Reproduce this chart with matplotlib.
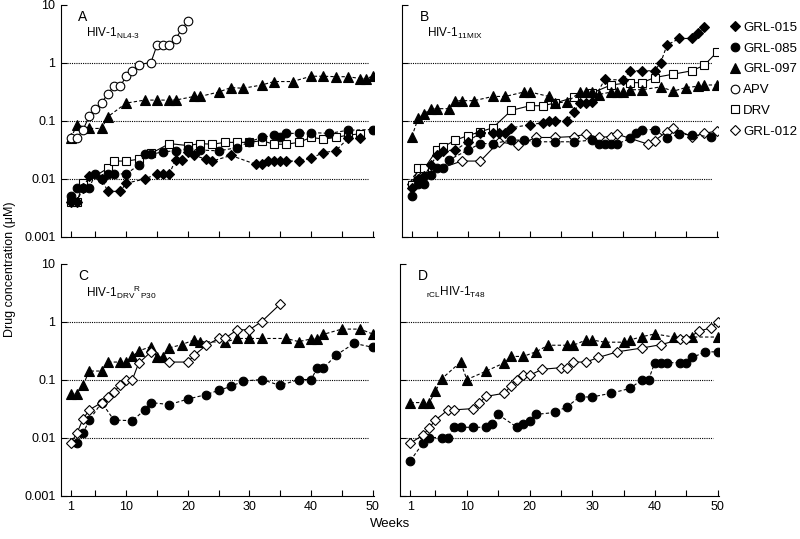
import matplotlib
matplotlib.use('Agg')
import matplotlib.pyplot as plt
from matplotlib.lines import Line2D

plt.rcParams['font.family'] = 'Liberation Sans'
plt.rcParams['mathtext.fontset'] = 'custom'
plt.rcParams['mathtext.rm'] = 'Liberation Sans'
plt.rcParams['mathtext.it'] = 'Liberation Sans'

# ---- panel A : HIV-1 NL4-3 ----
a_015_wk = [1, 2, 3, 4, 6, 7, 9, 10, 13, 15, 16, 17, 18, 19, 20, 21, 23, 24, 27, 31, 32, 33, 34, 35, 36, 38, 40, 42, 44, 46, 48]
a_015 = [0.004, 0.004, 0.007, 0.011, 0.0098, 0.006, 0.006, 0.0083, 0.0098, 0.012, 0.012, 0.012, 0.021, 0.021, 0.029, 0.025,
         0.0215, 0.02, 0.025, 0.0176, 0.0176, 0.02, 0.02, 0.02, 0.02, 0.02, 0.0224, 0.028, 0.03, 0.049, 0.049]
a_085_wk = [1, 2, 3, 4, 5, 6, 7, 8, 10, 12, 13, 14, 16, 18, 20, 22, 25, 28, 30, 32, 34, 35, 36, 38, 40, 43, 46, 50]
a_085 = [0.005, 0.007, 0.007, 0.007, 0.012, 0.0098, 0.012, 0.012, 0.012, 0.017, 0.026, 0.026, 0.029, 0.03, 0.032, 0.031,
         0.03, 0.034, 0.043, 0.051, 0.056, 0.051, 0.06, 0.06, 0.062, 0.06, 0.068, 0.07]
a_097_wk = [1, 2, 4, 6, 7, 10, 13, 15, 17, 18, 21, 22, 25, 27, 29, 32, 34, 37, 40, 42, 44, 46, 48, 49, 50]
a_097 = [0.05, 0.084, 0.073, 0.073, 0.116, 0.2, 0.225, 0.225, 0.225, 0.225, 0.26, 0.26, 0.31, 0.37, 0.36, 0.41, 0.47,
         0.47, 0.58, 0.58, 0.57, 0.57, 0.53, 0.53, 0.58]
a_apv_wk = [1, 2, 3, 4, 5, 6, 7, 8, 9, 10, 11, 12, 14, 15, 16, 17, 18, 19, 20]
a_apv = [0.05, 0.05, 0.07, 0.12, 0.16, 0.2, 0.29, 0.39, 0.39, 0.58, 0.71, 0.92, 1, 2, 2, 2, 2.5, 3.8, 5.1]
a_drv_wk = [1, 2, 3, 7, 8, 10, 12, 14, 17, 20, 22, 24, 26, 28, 30, 32, 34, 36, 38, 40, 42, 44, 46, 48]
a_drv = [0.004, 0.004, 0.0083, 0.015, 0.02, 0.02, 0.0215, 0.027, 0.04, 0.037, 0.04, 0.039, 0.042, 0.042, 0.042, 0.045,
         0.039, 0.039, 0.042, 0.051, 0.048, 0.051, 0.056, 0.059]

# ---- panel B : HIV-1 11MIX ----
b_015_wk = [1, 2, 3, 4, 5, 6, 8, 10, 12, 14, 15, 16, 17, 20, 22, 23, 24, 26, 27, 28, 29, 30, 32, 35, 36, 38, 40, 41, 42, 44, 46, 47, 48]
b_015 = [0.007, 0.01, 0.011, 0.017, 0.025, 0.03, 0.031, 0.043, 0.062, 0.062, 0.062, 0.062, 0.075, 0.085, 0.091, 0.1, 0.1,
         0.1, 0.14, 0.2, 0.2, 0.21, 0.51, 0.5, 0.72, 0.72, 0.72, 1.0, 2.0, 2.6, 2.6, 3.2, 4.1]
b_085_wk = [1, 2, 3, 4, 5, 6, 7, 10, 12, 14, 17, 19, 21, 24, 27, 30, 31, 32, 33, 34, 36, 37, 38, 40, 42, 44, 46, 49]
b_085 = [0.005, 0.008, 0.008, 0.0115, 0.015, 0.015, 0.021, 0.031, 0.04, 0.04, 0.046, 0.046, 0.043, 0.043, 0.043, 0.046,
         0.039, 0.039, 0.039, 0.039, 0.049, 0.06, 0.069, 0.07, 0.049, 0.059, 0.056, 0.053]
b_097_wk = [1, 2, 3, 4, 5, 7, 8, 9, 11, 14, 16, 19, 20, 23, 24, 26, 28, 29, 30, 31, 33, 34, 35, 36, 38, 41, 43, 45, 47, 48, 50]
b_097 = [0.053, 0.11, 0.13, 0.16, 0.16, 0.16, 0.22, 0.22, 0.22, 0.26, 0.26, 0.31, 0.31, 0.26, 0.2, 0.21, 0.31, 0.31,
         0.31, 0.28, 0.31, 0.31, 0.31, 0.34, 0.34, 0.38, 0.32, 0.37, 0.39, 0.41, 0.41]
b_drv_wk = [1, 2, 3, 5, 6, 8, 10, 12, 14, 17, 20, 22, 24, 27, 30, 33, 36, 38, 40, 43, 46, 48, 50]
b_drv = [0.0078, 0.015, 0.015, 0.031, 0.035, 0.046, 0.055, 0.064, 0.075, 0.15, 0.18, 0.18, 0.2, 0.25, 0.3, 0.41, 0.45,
         0.45, 0.55, 0.63, 0.72, 0.9, 1.5]
b_012_wk = [1, 2, 3, 9, 12, 15, 18, 21, 24, 27, 29, 31, 33, 34, 39, 40, 42, 43, 46, 48, 50]
b_012 = [0.008, 0.011, 0.012, 0.02, 0.02, 0.043, 0.038, 0.051, 0.051, 0.053, 0.058, 0.051, 0.053, 0.058, 0.039, 0.045,
         0.064, 0.073, 0.053, 0.06, 0.066]

# ---- panel C : HIV-1 DRVR P30 ----
c_085_wk = [2, 3, 4, 6, 8, 11, 13, 14, 17, 20, 23, 25, 27, 29, 32, 35, 38, 40, 41, 42, 44, 47, 50]
c_085 = [0.008, 0.012, 0.02, 0.04, 0.02, 0.0195, 0.03, 0.04, 0.037, 0.046, 0.055, 0.065, 0.076, 0.094, 0.1, 0.079,
         0.1, 0.1, 0.155, 0.155, 0.26, 0.42, 0.36]
c_097_wk = [1, 2, 3, 4, 6, 7, 9, 10, 11, 12, 14, 15, 16, 17, 19, 21, 22, 26, 28, 30, 32, 36, 38, 40, 41, 42, 45, 48, 50]
c_097 = [0.057, 0.057, 0.081, 0.14, 0.14, 0.2, 0.2, 0.2, 0.25, 0.31, 0.37, 0.24, 0.24, 0.35, 0.4, 0.48, 0.45, 0.44,
         0.51, 0.51, 0.51, 0.51, 0.45, 0.5, 0.5, 0.6, 0.74, 0.74, 0.61]
c_012_wk = [1, 2, 3, 4, 6, 7, 8, 9, 10, 11, 12, 14, 17, 20, 21, 23, 25, 26, 28, 30, 32, 35]
c_012 = [0.008, 0.012, 0.021, 0.03, 0.04, 0.05, 0.06, 0.081, 0.1, 0.1, 0.19, 0.3, 0.2, 0.2, 0.26, 0.39, 0.51, 0.51,
         0.72, 0.72, 1.0, 2.0]

# ---- panel D : rCL HIV-1 T48 ----
d_085_wk = [1, 3, 4, 6, 7, 8, 9, 11, 13, 14, 15, 18, 19, 20, 21, 24, 26, 28, 30, 33, 36, 38, 39, 40, 41, 42, 44, 45, 46, 48, 50]
d_085 = [0.004, 0.008, 0.01, 0.01, 0.01, 0.015, 0.015, 0.015, 0.015, 0.017, 0.025, 0.015, 0.017, 0.019, 0.025, 0.027,
         0.034, 0.05, 0.05, 0.058, 0.07, 0.1, 0.1, 0.195, 0.195, 0.195, 0.195, 0.195, 0.24, 0.3, 0.3]
d_097_wk = [1, 3, 4, 5, 6, 9, 10, 13, 16, 17, 19, 21, 23, 26, 27, 29, 30, 32, 35, 36, 38, 40, 43, 46, 50]
d_097 = [0.04, 0.04, 0.04, 0.063, 0.103, 0.2, 0.1, 0.138, 0.195, 0.25, 0.25, 0.3, 0.39, 0.39, 0.39, 0.48, 0.48, 0.44,
         0.44, 0.48, 0.55, 0.61, 0.54, 0.54, 0.54]
d_012_wk = [1, 3, 4, 5, 7, 8, 11, 12, 13, 16, 17, 18, 19, 20, 22, 25, 26, 27, 29, 31, 34, 38, 41, 44, 45, 47, 49, 50]
d_012 = [0.008, 0.011, 0.0147, 0.02, 0.03, 0.03, 0.0315, 0.039, 0.051, 0.058, 0.077, 0.1, 0.118, 0.118, 0.15, 0.16,
         0.16, 0.2, 0.2, 0.24, 0.3, 0.35, 0.4, 0.49, 0.49, 0.68, 0.78, 1.0]

week_ticks = [1, 5, 10, 15, 20, 25, 30, 35, 40, 45, 50]
week_labels = ['1', '', '10', '', '20', '', '30', '', '40', '', '50']
conc_ticks = [0.001, 0.01, 0.1, 1, 10]
conc_labels = ['0.001', '0.01', '0.1', '1', '10']

# style per compound
styles = {
    'GRL-015': dict(marker='D', ms=5, mfc='black', ls=(0, (3, 2))),
    'GRL-085': dict(marker='o', ms=6.2, mfc='black', ls=(0, (3, 2))),
    'GRL-097': dict(marker='^', ms=6.5, mfc='black', ls=(0, (3, 2))),
    'APV': dict(marker='o', ms=6.2, mfc='white', ls='-'),
    'DRV': dict(marker='s', ms=6, mfc='white', ls='-'),
    'GRL-012': dict(marker='D', ms=5, mfc='white', ls='-'),
}

fig = plt.figure(figsize=(8, 5.39), dpi=100)
axA = fig.add_axes([0.07625, 0.5612, 0.391, 0.4304])
axB = fig.add_axes([0.5025, 0.5612, 0.395, 0.4304])
axC = fig.add_axes([0.07625, 0.0807, 0.391, 0.4304])
axD = fig.add_axes([0.5005, 0.0807, 0.398, 0.4304])


def draw(ax, name, wk, vals):
    st = styles[name]
    ax.plot(wk, vals, color='black', lw=0.8, linestyle=st['ls'], marker=st['marker'],
            ms=st['ms'], mfc=st['mfc'], mec='black', mew=0.8, zorder=3)


def setup(ax, letter, label, showx, showy):
    ax.set_yscale('log')
    ax.set_ylim(0.001, 10)
    ax.set_xlim(-0.6, 50.2)
    ax.hlines([0.01, 0.1, 1], 0.3, 49.3, colors='black', linestyles=(0, (1, 1)), lw=0.8, zorder=1)
    ax.set_xticks(week_ticks)
    ax.set_xticklabels(week_labels if showx else [])
    ax.set_yticks(conc_ticks)
    ax.set_yticklabels(conc_labels if showy else [])
    ax.minorticks_off()
    ax.tick_params(direction='in', length=4, width=0.8, labelsize=9, pad=4)
    for s in ['top', 'right']:
        ax.spines[s].set_visible(False)
    for s in ['left', 'bottom']:
        ax.spines[s].set_linewidth(0.8)
    ax.text(0.055, 0.945, letter, transform=ax.transAxes, fontsize=10, va='center')
    ax.text(0.08, 0.875, label, transform=ax.transAxes, fontsize=8.5, va='center')


draw(axA, 'DRV', a_drv_wk, a_drv)
draw(axA, 'GRL-015', a_015_wk, a_015)
draw(axA, 'GRL-085', a_085_wk, a_085)
draw(axA, 'GRL-097', a_097_wk, a_097)
draw(axA, 'APV', a_apv_wk, a_apv)
setup(axA, 'A', r'HIV-1$_{\rm NL4\text{-}3}$', False, True)

draw(axB, 'GRL-012', b_012_wk, b_012)
draw(axB, 'DRV', b_drv_wk, b_drv)
draw(axB, 'GRL-015', b_015_wk, b_015)
draw(axB, 'GRL-085', b_085_wk, b_085)
draw(axB, 'GRL-097', b_097_wk, b_097)
setup(axB, 'B', r'HIV-1$_{\rm 11MIX}$', False, False)

draw(axC, 'GRL-085', c_085_wk, c_085)
draw(axC, 'GRL-097', c_097_wk, c_097)
draw(axC, 'GRL-012', c_012_wk, c_012)
setup(axC, 'C', r'HIV-1$_{\rm DRV}$$^{\rm R}$$_{\rm P30}$', True, True)

draw(axD, 'GRL-085', d_085_wk, d_085)
draw(axD, 'GRL-097', d_097_wk, d_097)
draw(axD, 'GRL-012', d_012_wk, d_012)
setup(axD, 'D', r'$_{\rm rCL}$HIV-1$_{\rm T48}$', True, False)

handles = []
for name in ['GRL-015', 'GRL-085', 'GRL-097', 'APV', 'DRV', 'GRL-012']:
    st = styles[name]
    handles.append(Line2D([], [], color='black', ls='none', marker=st['marker'], ms=st['ms'],
                          mfc=st['mfc'], mec='black', mew=0.8))
fig.legend(handles, ['GRL-015', 'GRL-085', 'GRL-097', 'APV', 'DRV', 'GRL-012'],
           loc='upper left', bbox_to_anchor=(0.914, 0.96), frameon=False, fontsize=9.5,
           handlelength=0.6, handletextpad=0.3, labelspacing=0.65, borderpad=0, borderaxespad=0)

fig.text(0.012, 0.5, u'Drug concentration (\u03bcM)', rotation=90, va='center', ha='center', fontsize=9)
fig.text(0.4875, 0.028, 'Weeks', ha='center', va='center', fontsize=9.5)

fig.savefig('out.png', dpi=100)
